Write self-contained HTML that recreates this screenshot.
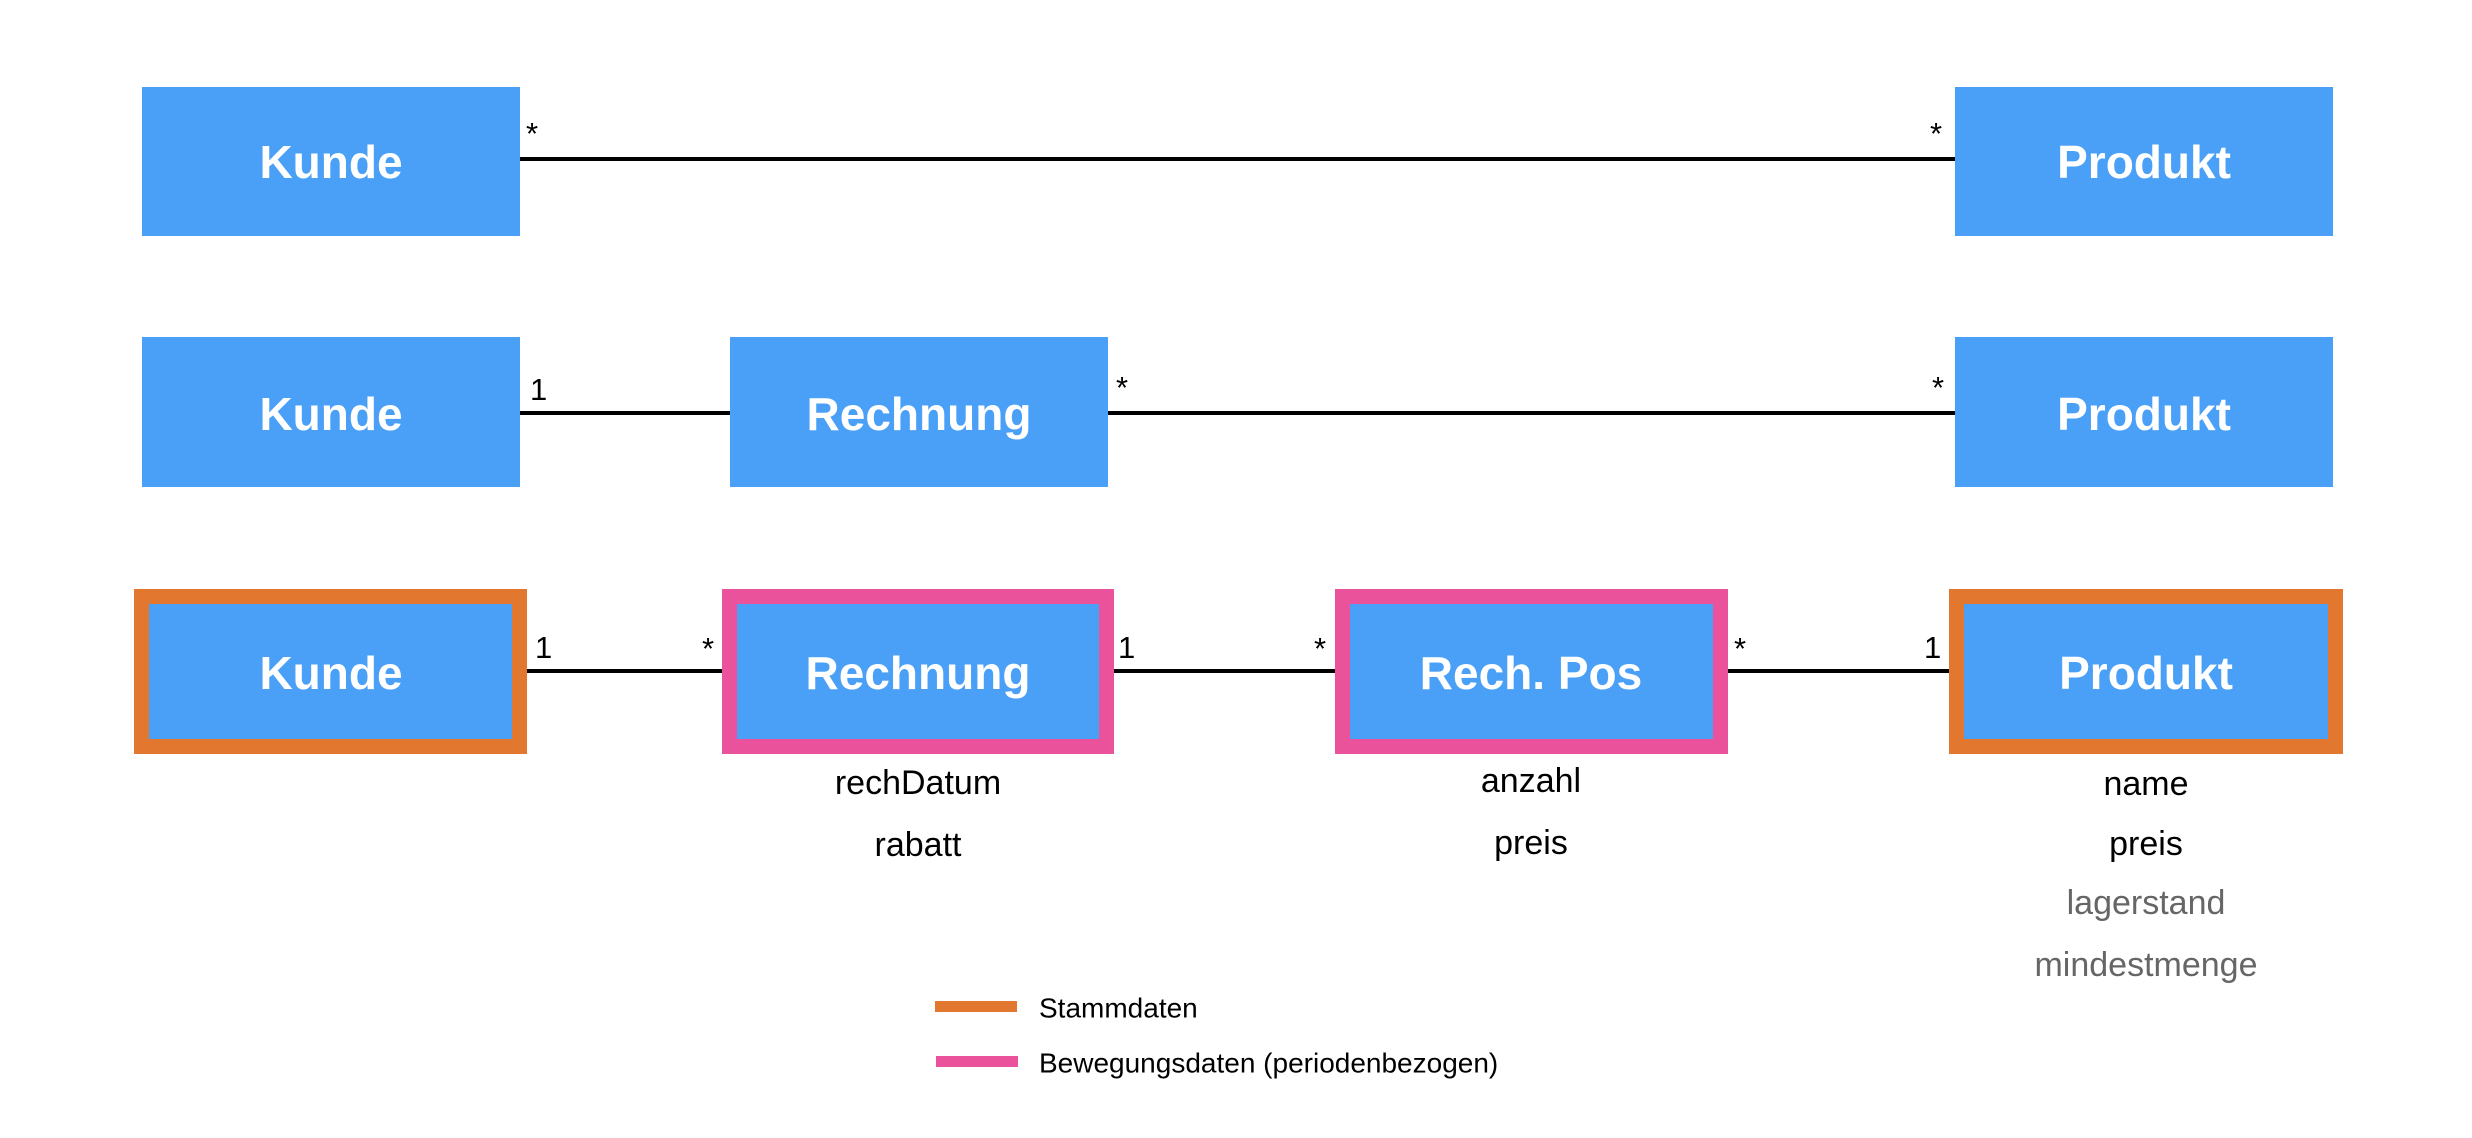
<!DOCTYPE html>
<html><head><meta charset="utf-8"><style>
html,body{margin:0;padding:0;background:#fff;}
svg{display:block;}
text{font-family:"Liberation Sans",Arial,sans-serif;}
.b{fill:#4aa0f7;}
.t{fill:#fff;font-weight:bold;font-size:46px;text-anchor:middle;dominant-baseline:central;}
.l{fill:#000;font-size:31px;}
.a{fill:#000;font-size:34px;text-anchor:middle;dominant-baseline:central;}
.g{fill:#666;font-size:34px;text-anchor:middle;dominant-baseline:central;}
</style></head><body>
<svg width="2472" height="1138" viewBox="0 0 2472 1138" xmlns="http://www.w3.org/2000/svg">
<!-- Row 1 -->
<line x1="520" y1="159" x2="1955" y2="159" stroke="#000" stroke-width="4"/>
<rect class="b" x="142" y="87" width="378" height="149"/>
<text class="t" x="331" y="162">Kunde</text>
<rect class="b" x="1955" y="87" width="378" height="149"/>
<text class="t" x="2144" y="162">Produkt</text>
<text class="l" x="526" y="144">*</text>
<text class="l" x="1930" y="144">*</text>
<!-- Row 2 -->
<line x1="520" y1="413" x2="730" y2="413" stroke="#000" stroke-width="4"/>
<line x1="1108" y1="413" x2="1955" y2="413" stroke="#000" stroke-width="4"/>
<rect class="b" x="142" y="337" width="378" height="150"/>
<text class="t" x="331" y="414">Kunde</text>
<rect class="b" x="730" y="337" width="378" height="150"/>
<text class="t" x="919" y="414">Rechnung</text>
<rect class="b" x="1955" y="337" width="378" height="150"/>
<text class="t" x="2144" y="414">Produkt</text>
<text class="l" x="530" y="400">1</text>
<text class="l" x="1116" y="398">*</text>
<text class="l" x="1932" y="398">*</text>
<!-- Row 3 -->
<line x1="527" y1="671" x2="722" y2="671" stroke="#000" stroke-width="4"/>
<line x1="1114" y1="671" x2="1335" y2="671" stroke="#000" stroke-width="4"/>
<line x1="1728" y1="671" x2="1949" y2="671" stroke="#000" stroke-width="4"/>
<rect x="141.5" y="596.5" width="378" height="150" fill="#4aa0f7" stroke="#e27830" stroke-width="15"/>
<text class="t" x="331" y="673">Kunde</text>
<rect x="729.5" y="596.5" width="377" height="150" fill="#4aa0f7" stroke="#ea539b" stroke-width="15"/>
<text class="t" x="918" y="673">Rechnung</text>
<rect x="1342.5" y="596.5" width="378" height="150" fill="#4aa0f7" stroke="#ea539b" stroke-width="15"/>
<text class="t" x="1531" y="673">Rech. Pos</text>
<rect x="1956.5" y="596.5" width="379" height="150" fill="#4aa0f7" stroke="#e27830" stroke-width="15"/>
<text class="t" x="2146" y="673">Produkt</text>
<text class="l" x="535" y="658">1</text>
<text class="l" x="702" y="659">*</text>
<text class="l" x="1118" y="658">1</text>
<text class="l" x="1314" y="659">*</text>
<text class="l" x="1734" y="659">*</text>
<text class="l" x="1924" y="658">1</text>
<text class="a" x="918" y="783">rechDatum</text>
<text class="a" x="918" y="845">rabatt</text>
<text class="a" x="1531" y="781">anzahl</text>
<text class="a" x="1531" y="843">preis</text>
<text class="a" x="2146" y="784">name</text>
<text class="a" x="2146" y="844">preis</text>
<text class="g" x="2146" y="903">lagerstand</text>
<text class="g" x="2146" y="965">mindestmenge</text>
<!-- Legend -->
<rect x="935" y="1001" width="82" height="11" fill="#e27830"/>
<rect x="936" y="1056" width="82" height="11" fill="#ea539b"/>
<text x="1039" y="1008" font-size="28" dominant-baseline="central" fill="#000">Stammdaten</text>
<text x="1039" y="1063" font-size="28" dominant-baseline="central" fill="#000">Bewegungsdaten (periodenbezogen)</text>
</svg>
</body></html>
